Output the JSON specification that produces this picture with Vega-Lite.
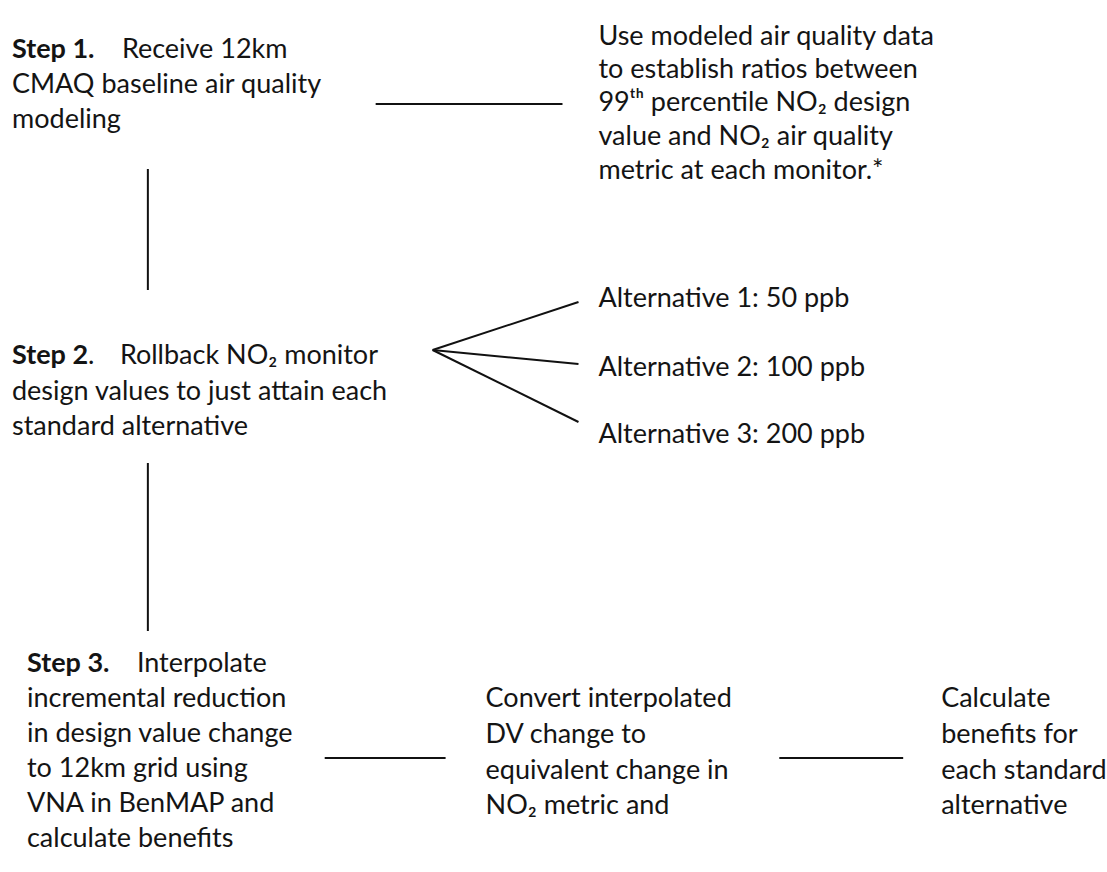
{
  "$schema": "https://vega.github.io/schema/vega-lite/v6.json",
  "width": 1107,
  "height": 872,
  "autosize": {"type": "fit", "contains": "padding"},
  "padding": 0,
  "background": "white",
  "config": {"view": {"stroke": null}},
  "datasets": {
    "texts": [
      {"x": 12, "y": 58, "text": "Step 1.", "w": "bold"},
      {"x": 122, "y": 58, "text": "Receive 12km", "w": "normal"},
      {"x": 12, "y": 93, "text": "CMAQ baseline air quality", "w": "normal"},
      {"x": 12, "y": 128, "text": "modeling", "w": "normal"},
      {"x": 599, "y": 45, "text": "Use modeled air quality data", "w": "normal"},
      {"x": 599, "y": 78, "text": "to establish ratios between", "w": "normal"},
      {"x": 599, "y": 111, "text": "99ᵗʰ percentile NO₂ design", "w": "normal"},
      {"x": 599, "y": 145, "text": "value and NO₂ air quality", "w": "normal"},
      {"x": 599, "y": 179, "text": "metric at each monitor.*", "w": "normal"},
      {"x": 12, "y": 364, "text": "Step 2", "w": "bold"},
      {"x": 88, "y": 364, "text": ".", "w": "normal"},
      {"x": 120, "y": 364, "text": "Rollback NO₂ monitor", "w": "normal"},
      {"x": 12, "y": 400, "text": "design values to just attain each", "w": "normal"},
      {"x": 12, "y": 435, "text": "standard alternative", "w": "normal"},
      {"x": 599, "y": 307, "text": "Alternative 1: 50 ppb", "w": "normal"},
      {"x": 599, "y": 376, "text": "Alternative 2: 100 ppb", "w": "normal"},
      {"x": 599, "y": 443, "text": "Alternative 3: 200 ppb", "w": "normal"},
      {"x": 27, "y": 672, "text": "Step 3.", "w": "bold"},
      {"x": 137, "y": 672, "text": "Interpolate", "w": "normal"},
      {"x": 27, "y": 707, "text": "incremental reduction", "w": "normal"},
      {"x": 27, "y": 742, "text": "in design value change", "w": "normal"},
      {"x": 27, "y": 777, "text": "to 12km grid using", "w": "normal"},
      {"x": 27, "y": 812, "text": "VNA in BenMAP and", "w": "normal"},
      {"x": 27, "y": 847, "text": "calculate benefits", "w": "normal"},
      {"x": 486, "y": 707, "text": "Convert interpolated", "w": "normal"},
      {"x": 486, "y": 743, "text": "DV change to", "w": "normal"},
      {"x": 486, "y": 779, "text": "equivalent change in", "w": "normal"},
      {"x": 486, "y": 814, "text": "NO₂ metric and", "w": "normal"},
      {"x": 942, "y": 707, "text": "Calculate", "w": "normal"},
      {"x": 942, "y": 743, "text": "benefits for", "w": "normal"},
      {"x": 942, "y": 779, "text": "each standard", "w": "normal"},
      {"x": 942, "y": 814, "text": "alternative", "w": "normal"}
    ],
    "lines": [
      {"x": 376, "y": 104, "x2": 563, "y2": 104},
      {"x": 148, "y": 169, "x2": 148, "y2": 290},
      {"x": 433, "y": 350, "x2": 579, "y2": 302},
      {"x": 433, "y": 350, "x2": 579, "y2": 364},
      {"x": 433, "y": 350, "x2": 579, "y2": 422},
      {"x": 148, "y": 463, "x2": 148, "y2": 631},
      {"x": 325, "y": 758, "x2": 446, "y2": 758},
      {"x": 780, "y": 758, "x2": 904, "y2": 758}
    ]
  },
  "layer": [
    {
      "data": {"name": "lines"},
      "mark": {"type": "rule", "color": "#111111", "strokeWidth": 2},
      "encoding": {
        "x": {"field": "x", "type": "quantitative", "scale": {"domain": [0, 1107], "nice": false, "zero": false}, "axis": null},
        "y": {"field": "y", "type": "quantitative", "scale": {"domain": [0, 872], "nice": false, "zero": false, "reverse": true}, "axis": null},
        "x2": {"field": "x2"},
        "y2": {"field": "y2"}
      }
    },
    {
      "data": {"name": "texts"},
      "transform": [{"filter": "datum.w === 'normal'"}],
      "mark": {"type": "text", "align": "left", "baseline": "alphabetic", "font": "Lato", "fontSize": 27, "color": "#141414"},
      "encoding": {
        "x": {"field": "x", "type": "quantitative", "scale": {"domain": [0, 1107], "nice": false, "zero": false}, "axis": null},
        "y": {"field": "y", "type": "quantitative", "scale": {"domain": [0, 872], "nice": false, "zero": false, "reverse": true}, "axis": null},
        "text": {"field": "text"}
      }
    },
    {
      "data": {"name": "texts"},
      "transform": [{"filter": "datum.w === 'bold'"}],
      "mark": {"type": "text", "align": "left", "baseline": "alphabetic", "font": "Lato", "fontSize": 27, "fontWeight": "bold", "color": "#141414"},
      "encoding": {
        "x": {"field": "x", "type": "quantitative", "scale": {"domain": [0, 1107], "nice": false, "zero": false}, "axis": null},
        "y": {"field": "y", "type": "quantitative", "scale": {"domain": [0, 872], "nice": false, "zero": false, "reverse": true}, "axis": null},
        "text": {"field": "text"}
      }
    }
  ]
}
